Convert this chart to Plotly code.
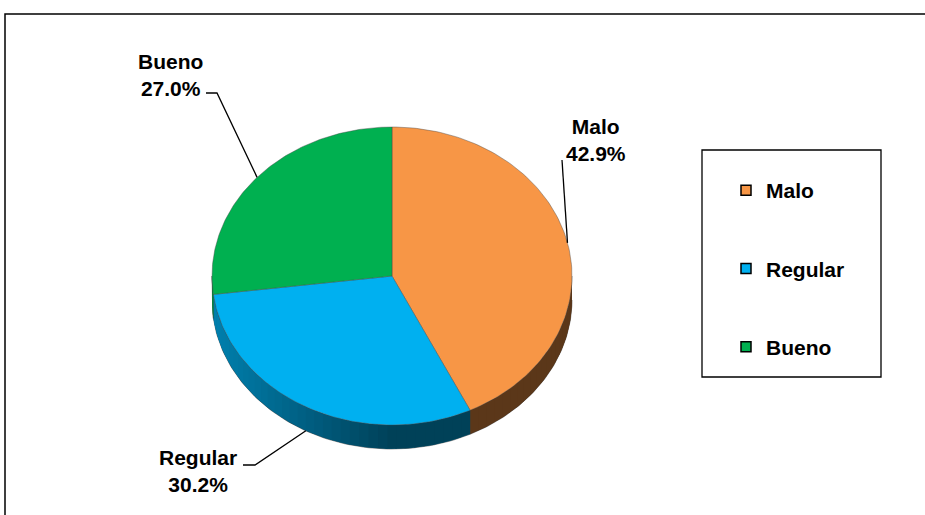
import numpy as np
import plotly.graph_objects as go

# data
categories = ["Malo", "Regular", "Bueno"]
percentages = [42.9, 30.2, 27.0]
top_colors = ["#F79646", "#00B0F0", "#00B050"]

# label text positions (pixel space) for each category
label_pos = {"Malo": (596, 140), "Regular": (198, 471), "Bueno": (170, 75)}

W, H = 925, 515
CX, CY = 392, 276       # centre of the top ellipse
RX, RY = 180, 149       # ellipse radii
DEPTH = 24              # thickness of the disc


def ell(theta_deg, dy=0.0):
    t = np.radians(theta_deg)
    return CX + RX * np.sin(t), CY - RY * np.cos(t) + dy


def shade(hex_color, f):
    h = hex_color.lstrip("#")
    r, g, b = (int(h[i:i + 2], 16) for i in (0, 2, 4))
    return "rgb(%d,%d,%d)" % (r * f, g * f, b * f)


def side_factor(theta_deg):
    return 0.37 + 0.36 * max(0.0, -np.sin(np.radians(theta_deg)))


fig = go.Figure()

# slice angle bounds, clockwise from 12 o'clock
total = sum(percentages)
bounds = np.concatenate([[0], np.cumsum(percentages) / total * 360])

# side walls (only the front half, 90..270 deg, is visible)
for i, cat in enumerate(categories):
    a0, a1 = max(bounds[i], 90), min(bounds[i + 1], 270)
    if a1 <= a0:
        continue
    # base wall in one colour, so no gaps show between the shading strips
    arc = np.linspace(a0, a1, 80)
    xs_t, ys_t = ell(arc)
    xs_b, ys_b = ell(arc[::-1], DEPTH)
    base = shade(top_colors[i], side_factor((a0 + a1) / 2))
    fig.add_trace(go.Scatter(
        x=np.concatenate([xs_t, xs_b]), y=np.concatenate([ys_t, ys_b]),
        fill="toself", fillcolor=base, mode="lines",
        line=dict(color="rgba(40,40,40,0.6)", width=0.8),
        hoverinfo="skip", showlegend=False))
    steps = np.linspace(a0, a1, max(2, int((a1 - a0) / 3) + 1))
    for s0, s1 in zip(steps[:-1], steps[1:]):
        col = shade(top_colors[i], side_factor((s0 + s1) / 2))
        arc = np.linspace(s0, s1 + 0.6 if s1 < a1 else s1, 4)
        xs_t, ys_t = ell(arc)
        xs_b, ys_b = ell(arc[::-1], DEPTH - 0.5)
        fig.add_trace(go.Scatter(
            x=np.concatenate([xs_t, xs_b]), y=np.concatenate([ys_t, ys_b]),
            fill="toself", fillcolor=col, mode="none",
            hoverinfo="skip", showlegend=False))

# top face of each slice
for i, cat in enumerate(categories):
    arc = np.linspace(bounds[i], bounds[i + 1], 120)
    xs, ys = ell(arc)
    fig.add_trace(go.Scatter(
        x=np.concatenate([[CX], xs, [CX]]), y=np.concatenate([[CY], ys, [CY]]),
        fill="toself", fillcolor=top_colors[i], mode="lines",
        line=dict(color="rgba(70,70,70,0.7)", width=0.6),
        name=cat, hoverinfo="skip", showlegend=False))

# legend entries
for i, cat in enumerate(categories):
    fig.add_trace(go.Scatter(
        x=[None], y=[None], mode="markers", name="<b>%s</b>" % cat, legendgroup=cat,
        marker=dict(symbol="square", size=10, color=top_colors[i],
                    line=dict(color="black", width=1.5))))

# data labels with leader lines
for i, cat in enumerate(categories):
    mid = (bounds[i] + bounds[i + 1]) / 2
    ax, ay = ell(mid)
    if 90 < mid < 270:
        ay += DEPTH
    lx, ly = label_pos[cat]
    fig.add_annotation(
        x=lx, y=ly, text="<b>%s<br>%.1f%%</b>" % (cat, percentages[i]),
        showarrow=False, font=dict(size=21, color="black"), align="center")
    if cat == "Malo":
        path = [(lx - 34, ly + 20), (ax, ay)]
    elif cat == "Bueno":
        path = [(lx + 36, ly + 18), (lx + 47, ly + 18), (ax, ay)]
    else:
        path = [(lx + 45, ly - 6), (lx + 57, ly - 6), (ax, ay)]
    fig.add_trace(go.Scatter(
        x=[p[0] for p in path], y=[p[1] for p in path], mode="lines",
        line=dict(color="black", width=1.3), hoverinfo="skip", showlegend=False))

# outer frame and legend box
fig.add_shape(type="rect", x0=5, y0=14, x1=W + 10, y1=H + 10,
              line=dict(color="black", width=1.5))
fig.add_shape(type="rect", x0=702, y0=150, x1=881, y1=377,
              line=dict(color="black", width=1.3))

fig.update_layout(
    width=W, height=H, autosize=False,
    margin=dict(l=0, r=0, t=0, b=0),
    paper_bgcolor="white", plot_bgcolor="white",
    font=dict(family="Liberation Sans, Arial, sans-serif", color="black"),
    xaxis=dict(range=[0, W], visible=False, fixedrange=True),
    yaxis=dict(range=[H, 0], visible=False, fixedrange=True),
    legend=dict(x=726 / W, y=1 - 170 / H, xanchor="left", yanchor="top",
                font=dict(size=21), tracegroupgap=48, bgcolor="rgba(0,0,0,0)",
                itemclick=False, itemdoubleclick=False),
    showlegend=True,
)

fig.write_html("out.html", config={"displayModeBar": False},
               post_script="document.body.style.margin='0';")
